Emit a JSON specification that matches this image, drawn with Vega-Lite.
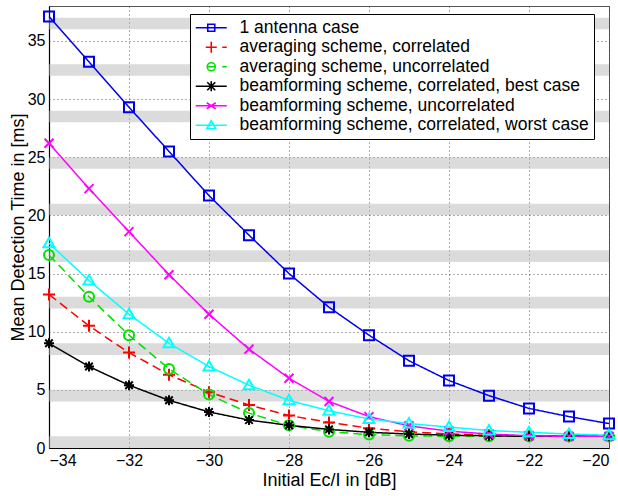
{
  "$schema": "https://vega.github.io/schema/vega-lite/v6.json",
  "autosize": "none",
  "width": 560,
  "height": 442,
  "padding": {"left": 49, "top": 6, "right": 9, "bottom": 48},
  "background": "white",
  "config": {
    "font": "Liberation Sans",
    "view": {"stroke": "#555", "strokeWidth": 1},
    "axis": {
      "labelFont": "Liberation Sans", "labelFontSize": 16, "labelColor": "black",
      "titleFont": "Liberation Sans", "titleFontSize": 18, "titleFontWeight": "normal", "titleColor": "black",
      "domainColor": "black", "domainWidth": 1.2,
      "gridColor": "#444", "gridDash": [1, 3], "gridWidth": 1, "gridOpacity": 0.9,
      "ticks": false
    }
  },
  "resolve": {"scale": {"shape": "independent", "color": "independent"}},
  "datasets": {
    "bands": [
      {"lo": 0, "hi": 1}, {"lo": 4, "hi": 5}, {"lo": 8, "hi": 9}, {"lo": 12, "hi": 13},
      {"lo": 16, "hi": 17}, {"lo": 20, "hi": 21}, {"lo": 24, "hi": 25}, {"lo": 28, "hi": 29},
      {"lo": 32, "hi": 33}, {"lo": 36, "hi": 37}
    ],
    "series": [
      {"x": -34, "y": 37.1, "s": "1 antenna case"},
      {"x": -33, "y": 33.2, "s": "1 antenna case"},
      {"x": -32, "y": 29.3, "s": "1 antenna case"},
      {"x": -31, "y": 25.5, "s": "1 antenna case"},
      {"x": -30, "y": 21.7, "s": "1 antenna case"},
      {"x": -29, "y": 18.3, "s": "1 antenna case"},
      {"x": -28, "y": 15.0, "s": "1 antenna case"},
      {"x": -27, "y": 12.1, "s": "1 antenna case"},
      {"x": -26, "y": 9.7, "s": "1 antenna case"},
      {"x": -25, "y": 7.5, "s": "1 antenna case"},
      {"x": -24, "y": 5.8, "s": "1 antenna case"},
      {"x": -23, "y": 4.5, "s": "1 antenna case"},
      {"x": -22, "y": 3.4, "s": "1 antenna case"},
      {"x": -21, "y": 2.7, "s": "1 antenna case"},
      {"x": -20, "y": 2.1, "s": "1 antenna case"},

      {"x": -34, "y": 13.2, "s": "averaging scheme, correlated"},
      {"x": -33, "y": 10.5, "s": "averaging scheme, correlated"},
      {"x": -32, "y": 8.2, "s": "averaging scheme, correlated"},
      {"x": -31, "y": 6.3, "s": "averaging scheme, correlated"},
      {"x": -30, "y": 4.8, "s": "averaging scheme, correlated"},
      {"x": -29, "y": 3.7, "s": "averaging scheme, correlated"},
      {"x": -28, "y": 2.8, "s": "averaging scheme, correlated"},
      {"x": -27, "y": 2.2, "s": "averaging scheme, correlated"},
      {"x": -26, "y": 1.7, "s": "averaging scheme, correlated"},
      {"x": -25, "y": 1.4, "s": "averaging scheme, correlated"},
      {"x": -24, "y": 1.2, "s": "averaging scheme, correlated"},
      {"x": -23, "y": 1.1, "s": "averaging scheme, correlated"},
      {"x": -22, "y": 1.05, "s": "averaging scheme, correlated"},
      {"x": -21, "y": 1.0, "s": "averaging scheme, correlated"},
      {"x": -20, "y": 1.0, "s": "averaging scheme, correlated"},

      {"x": -34, "y": 16.6, "s": "averaging scheme, uncorrelated"},
      {"x": -33, "y": 13.0, "s": "averaging scheme, uncorrelated"},
      {"x": -32, "y": 9.7, "s": "averaging scheme, uncorrelated"},
      {"x": -31, "y": 6.8, "s": "averaging scheme, uncorrelated"},
      {"x": -30, "y": 4.6, "s": "averaging scheme, uncorrelated"},
      {"x": -29, "y": 3.0, "s": "averaging scheme, uncorrelated"},
      {"x": -28, "y": 1.95, "s": "averaging scheme, uncorrelated"},
      {"x": -27, "y": 1.4, "s": "averaging scheme, uncorrelated"},
      {"x": -26, "y": 1.15, "s": "averaging scheme, uncorrelated"},
      {"x": -25, "y": 1.05, "s": "averaging scheme, uncorrelated"},
      {"x": -24, "y": 1.0, "s": "averaging scheme, uncorrelated"},
      {"x": -23, "y": 1.0, "s": "averaging scheme, uncorrelated"},
      {"x": -22, "y": 1.0, "s": "averaging scheme, uncorrelated"},
      {"x": -21, "y": 1.0, "s": "averaging scheme, uncorrelated"},
      {"x": -20, "y": 1.0, "s": "averaging scheme, uncorrelated"},

      {"x": -34, "y": 9.0, "s": "beamforming scheme, correlated, best case"},
      {"x": -33, "y": 7.0, "s": "beamforming scheme, correlated, best case"},
      {"x": -32, "y": 5.4, "s": "beamforming scheme, correlated, best case"},
      {"x": -31, "y": 4.1, "s": "beamforming scheme, correlated, best case"},
      {"x": -30, "y": 3.1, "s": "beamforming scheme, correlated, best case"},
      {"x": -29, "y": 2.4, "s": "beamforming scheme, correlated, best case"},
      {"x": -28, "y": 1.95, "s": "beamforming scheme, correlated, best case"},
      {"x": -27, "y": 1.6, "s": "beamforming scheme, correlated, best case"},
      {"x": -26, "y": 1.35, "s": "beamforming scheme, correlated, best case"},
      {"x": -25, "y": 1.2, "s": "beamforming scheme, correlated, best case"},
      {"x": -24, "y": 1.1, "s": "beamforming scheme, correlated, best case"},
      {"x": -23, "y": 1.05, "s": "beamforming scheme, correlated, best case"},
      {"x": -22, "y": 1.0, "s": "beamforming scheme, correlated, best case"},
      {"x": -21, "y": 1.0, "s": "beamforming scheme, correlated, best case"},
      {"x": -20, "y": 1.0, "s": "beamforming scheme, correlated, best case"},

      {"x": -34, "y": 26.2, "s": "beamforming scheme, uncorrelated"},
      {"x": -33, "y": 22.3, "s": "beamforming scheme, uncorrelated"},
      {"x": -32, "y": 18.6, "s": "beamforming scheme, uncorrelated"},
      {"x": -31, "y": 14.9, "s": "beamforming scheme, uncorrelated"},
      {"x": -30, "y": 11.5, "s": "beamforming scheme, uncorrelated"},
      {"x": -29, "y": 8.5, "s": "beamforming scheme, uncorrelated"},
      {"x": -28, "y": 6.0, "s": "beamforming scheme, uncorrelated"},
      {"x": -27, "y": 4.0, "s": "beamforming scheme, uncorrelated"},
      {"x": -26, "y": 2.7, "s": "beamforming scheme, uncorrelated"},
      {"x": -25, "y": 1.9, "s": "beamforming scheme, uncorrelated"},
      {"x": -24, "y": 1.45, "s": "beamforming scheme, uncorrelated"},
      {"x": -23, "y": 1.2, "s": "beamforming scheme, uncorrelated"},
      {"x": -22, "y": 1.05, "s": "beamforming scheme, uncorrelated"},
      {"x": -21, "y": 1.0, "s": "beamforming scheme, uncorrelated"},
      {"x": -20, "y": 1.0, "s": "beamforming scheme, uncorrelated"},

      {"x": -34, "y": 17.6, "s": "beamforming scheme, correlated, worst case"},
      {"x": -33, "y": 14.4, "s": "beamforming scheme, correlated, worst case"},
      {"x": -32, "y": 11.5, "s": "beamforming scheme, correlated, worst case"},
      {"x": -31, "y": 9.0, "s": "beamforming scheme, correlated, worst case"},
      {"x": -30, "y": 7.0, "s": "beamforming scheme, correlated, worst case"},
      {"x": -29, "y": 5.4, "s": "beamforming scheme, correlated, worst case"},
      {"x": -28, "y": 4.1, "s": "beamforming scheme, correlated, worst case"},
      {"x": -27, "y": 3.2, "s": "beamforming scheme, correlated, worst case"},
      {"x": -26, "y": 2.5, "s": "beamforming scheme, correlated, worst case"},
      {"x": -25, "y": 2.1, "s": "beamforming scheme, correlated, worst case"},
      {"x": -24, "y": 1.8, "s": "beamforming scheme, correlated, worst case"},
      {"x": -23, "y": 1.5, "s": "beamforming scheme, correlated, worst case"},
      {"x": -22, "y": 1.35, "s": "beamforming scheme, correlated, worst case"},
      {"x": -21, "y": 1.2, "s": "beamforming scheme, correlated, worst case"},
      {"x": -20, "y": 1.1, "s": "beamforming scheme, correlated, worst case"}
    ]
  },
  "layer": [
    {
      "data": {"name": "bands"},
      "mark": {"type": "rect", "fill": "#b8b8b8", "opacity": 0.5},
      "encoding": {
        "y": {"field": "lo", "type": "quantitative", "scale": {"domain": [0, 38], "nice": false}},
        "y2": {"field": "hi"}
      }
    },
    {
      "data": {"name": "series"},
      "mark": {"type": "line", "strokeWidth": 1.5},
      "encoding": {
        "x": {"field": "x", "type": "quantitative",
              "scale": {"domain": [-34, -20], "nice": false},
              "axis": {"values": [-34, -32, -30, -28, -26, -24, -22, -20], "title": "Initial Ec/I in [dB]", "titlePadding": 3, "labelPadding": 4}},
        "y": {"field": "y", "type": "quantitative",
              "scale": {"domain": [0, 38], "nice": false},
              "axis": {"values": [0, 5, 10, 15, 20, 25, 30, 35], "title": "Mean Detection Time in [ms]", "titlePadding": 0, "labelPadding": 4}},
        "color": {"field": "s", "type": "nominal", "legend": null,
                  "scale": {"domain": ["1 antenna case", "averaging scheme, correlated", "averaging scheme, uncorrelated", "beamforming scheme, correlated, best case", "beamforming scheme, uncorrelated", "beamforming scheme, correlated, worst case"],
                            "range": ["#0000ee", "#ff0000", "#00e000", "#000000", "#ff00ff", "#00ffff"]}},
        "strokeDash": {"field": "s", "type": "nominal", "legend": null,
                  "scale": {"domain": ["1 antenna case", "averaging scheme, correlated", "averaging scheme, uncorrelated", "beamforming scheme, correlated, best case", "beamforming scheme, uncorrelated", "beamforming scheme, correlated, worst case"],
                            "range": [[1, 0], [9, 5], [9, 5], [1, 0], [1, 0], [1, 0]]}}
      }
    },
    {
      "data": {"name": "series"},
      "mark": {"type": "point", "filled": false, "strokeWidth": 2, "size": 100, "opacity": 1},
      "encoding": {
        "x": {"field": "x", "type": "quantitative"},
        "y": {"field": "y", "type": "quantitative"},
        "color": {"field": "s", "type": "nominal", "legend": null,
                  "scale": {"domain": ["1 antenna case", "averaging scheme, correlated", "averaging scheme, uncorrelated", "beamforming scheme, correlated, best case", "beamforming scheme, uncorrelated", "beamforming scheme, correlated, worst case"],
                            "range": ["#0000ee", "#ff0000", "#00e000", "#000000", "#ff00ff", "#00ffff"]}},
        "shape": {"field": "s", "type": "nominal", "legend": null,
                  "scale": {"domain": ["1 antenna case", "averaging scheme, correlated", "averaging scheme, uncorrelated", "beamforming scheme, correlated, best case", "beamforming scheme, uncorrelated", "beamforming scheme, correlated, worst case"],
                            "range": ["M-1,-1H1V1H-1Z", "M-1.2,0H1.2M0,-1.2V1.2", "circle", "M-1,0H1M0,-1V1M-0.75,-0.75L0.75,0.75M-0.75,0.75L0.75,-0.75", "M-0.9,-0.9L0.9,0.9M-0.9,0.9L0.9,-0.9", "M0,-1.1L1.1,0.8H-1.1Z"]}}
      }
    },
    {
      "data": {"name": "series"},
      "mark": {"type": "point", "filled": false, "strokeWidth": 1.6, "opacity": 0},
      "encoding": {
        "x": {"field": "x", "type": "quantitative"},
        "y": {"field": "y", "type": "quantitative"},
        "color": {"field": "s", "type": "nominal",
                  "scale": {"domain": ["1 antenna case", "averaging scheme, correlated", "averaging scheme, uncorrelated", "beamforming scheme, correlated, best case", "beamforming scheme, uncorrelated", "beamforming scheme, correlated, worst case"],
                            "range": ["#0000ee", "#ff0000", "#00e000", "#000000", "#ff00ff", "#00ffff"]},
                  "legend": {
                    "title": null, "orient": "none", "legendX": 141, "legendY": 8,
                    "fillColor": "white", "strokeColor": "black", "padding": 5,
                    "labelFont": "Liberation Sans", "labelFontSize": 17.5, "labelColor": "black",
                    "symbolSize": 100, "symbolStrokeWidth": 1.6, "symbolOpacity": 1, "symbolOffset": 7.5, "labelOffset": 19.5, "rowPadding": 0.5,
                    "labelLimit": 500
                  }},
        "shape": {"field": "s", "type": "nominal",
                  "scale": {"domain": ["1 antenna case", "averaging scheme, correlated", "averaging scheme, uncorrelated", "beamforming scheme, correlated, best case", "beamforming scheme, uncorrelated", "beamforming scheme, correlated, worst case"],
                            "range": ["M-3.1,0H3.1M-0.7,-0.7H0.7V0.7H-0.7Z", "M-1.1,0H1.1M0,-1.1V1.1M2.2,0H3.1", "M-0.8,0A0.8,0.8 0 1,0 0.8,0A0.8,0.8 0 1,0 -0.8,0ZM-0.8,0H0.8M2.2,0H3.1", "M-3.1,0H3.1M0,-1V1M-0.8,-0.8L0.8,0.8M-0.8,0.8L0.8,-0.8", "M-3.1,0H3.1M-0.9,-0.6L0.9,0.6M-0.9,0.6L0.9,-0.6", "M-3.1,0H3.1M0,-0.9L0.9,0.7H-0.9Z"]}}
      }
    }
  ]
}
